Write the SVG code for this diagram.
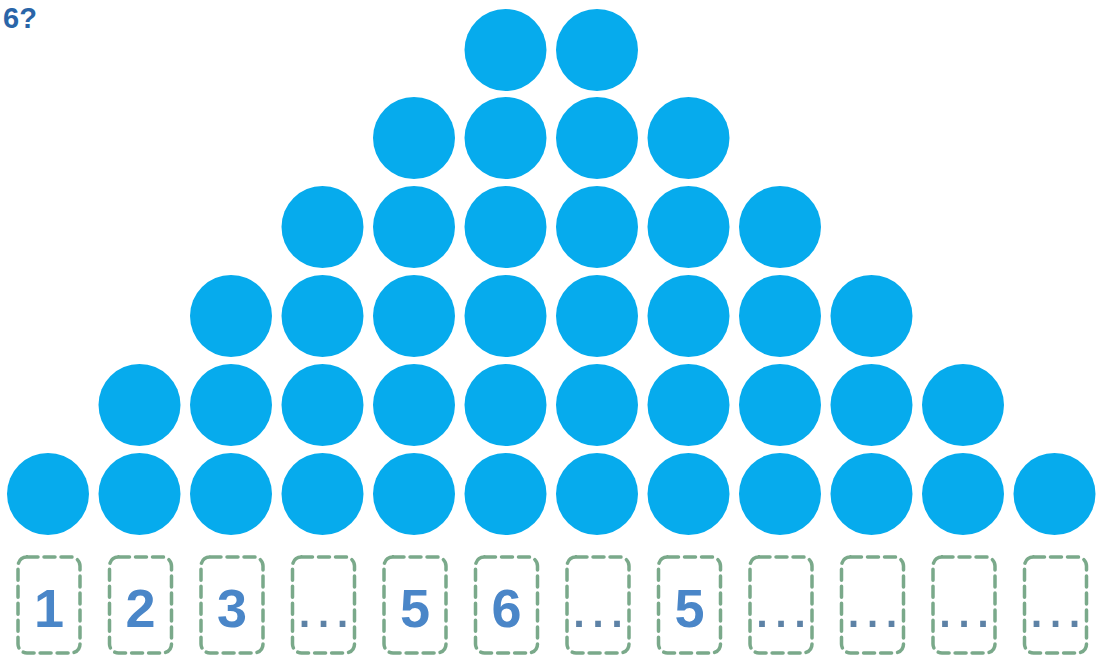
<svg xmlns="http://www.w3.org/2000/svg" width="1096" height="655" viewBox="0 0 1096 655">
<style>
.c{fill:#06abed}
.b{fill:none;stroke:#7aa98a;stroke-width:3.5;stroke-dasharray:11 6;stroke-linecap:round}
.n{font-family:"Liberation Sans",Arial,sans-serif;font-weight:bold;font-size:54px;fill:#4a86c8;text-anchor:middle}
.d{font-family:"Liberation Sans",Arial,sans-serif;font-weight:normal;font-size:60px;fill:#5d82a6;text-anchor:middle}
.t{font-family:"Liberation Sans",Arial,sans-serif;font-weight:bold;font-size:29px;fill:#2a65a8}
</style>
<rect width="1096" height="655" fill="#ffffff"/>
<text class="t" x="3" y="28">6?</text>
<g id="balls">
<g id="row1">
<circle class="c" cx="48" cy="494" r="41"/><circle class="c" cx="139.5" cy="494" r="41"/><circle class="c" cx="231" cy="494" r="41"/><circle class="c" cx="322.5" cy="494" r="41"/><circle class="c" cx="414" cy="494" r="41"/><circle class="c" cx="505.5" cy="494" r="41"/><circle class="c" cx="597" cy="494" r="41"/><circle class="c" cx="688.5" cy="494" r="41"/><circle class="c" cx="780" cy="494" r="41"/><circle class="c" cx="871.5" cy="494" r="41"/><circle class="c" cx="963" cy="494" r="41"/><circle class="c" cx="1054.5" cy="494" r="41"/>
</g>
<g id="row2">
<circle class="c" cx="139.5" cy="405" r="41"/><circle class="c" cx="231" cy="405" r="41"/><circle class="c" cx="322.5" cy="405" r="41"/><circle class="c" cx="414" cy="405" r="41"/><circle class="c" cx="505.5" cy="405" r="41"/><circle class="c" cx="597" cy="405" r="41"/><circle class="c" cx="688.5" cy="405" r="41"/><circle class="c" cx="780" cy="405" r="41"/><circle class="c" cx="871.5" cy="405" r="41"/><circle class="c" cx="963" cy="405" r="41"/>
</g>
<g id="row3">
<circle class="c" cx="231" cy="316" r="41"/><circle class="c" cx="322.5" cy="316" r="41"/><circle class="c" cx="414" cy="316" r="41"/><circle class="c" cx="505.5" cy="316" r="41"/><circle class="c" cx="597" cy="316" r="41"/><circle class="c" cx="688.5" cy="316" r="41"/><circle class="c" cx="780" cy="316" r="41"/><circle class="c" cx="871.5" cy="316" r="41"/>
</g>
<g id="row4">
<circle class="c" cx="322.5" cy="227" r="41"/><circle class="c" cx="414" cy="227" r="41"/><circle class="c" cx="505.5" cy="227" r="41"/><circle class="c" cx="597" cy="227" r="41"/><circle class="c" cx="688.5" cy="227" r="41"/><circle class="c" cx="780" cy="227" r="41"/>
</g>
<g id="row5">
<circle class="c" cx="414" cy="138" r="41"/><circle class="c" cx="505.5" cy="138" r="41"/><circle class="c" cx="597" cy="138" r="41"/><circle class="c" cx="688.5" cy="138" r="41"/>
</g>
<g id="row6">
<circle class="c" cx="505.5" cy="50" r="41"/><circle class="c" cx="597" cy="50" r="41"/>
</g>
</g>
<g id="box1"><rect class="b" x="18" y="557" width="62" height="96" rx="9"/><text class="n" x="49" y="627">1</text></g>
<g id="box2"><rect class="b" x="109.5" y="557" width="62" height="96" rx="9"/><text class="n" x="140.5" y="627">2</text></g>
<g id="box3"><rect class="b" x="201" y="557" width="62" height="96" rx="9"/><text class="n" x="232" y="627">3</text></g>
<g id="box4"><rect class="b" x="292.5" y="557" width="62" height="96" rx="9"/><text class="d" x="323.5" y="627">…</text></g>
<g id="box5"><rect class="b" x="384" y="557" width="62" height="96" rx="9"/><text class="n" x="415" y="627">5</text></g>
<g id="box6"><rect class="b" x="475.5" y="557" width="62" height="96" rx="9"/><text class="n" x="506.5" y="627">6</text></g>
<g id="box7"><rect class="b" x="567" y="557" width="62" height="96" rx="9"/><text class="d" x="598" y="627">…</text></g>
<g id="box8"><rect class="b" x="658.5" y="557" width="62" height="96" rx="9"/><text class="n" x="689.5" y="627">5</text></g>
<g id="box9"><rect class="b" x="750" y="557" width="62" height="96" rx="9"/><text class="d" x="781" y="627">…</text></g>
<g id="box10"><rect class="b" x="841.5" y="557" width="62" height="96" rx="9"/><text class="d" x="872.5" y="627">…</text></g>
<g id="box11"><rect class="b" x="933" y="557" width="62" height="96" rx="9"/><text class="d" x="964" y="627">…</text></g>
<g id="box12"><rect class="b" x="1024.5" y="557" width="62" height="96" rx="9"/><text class="d" x="1055.5" y="627">…</text></g>
<g id="connectors"></g>
</svg>
